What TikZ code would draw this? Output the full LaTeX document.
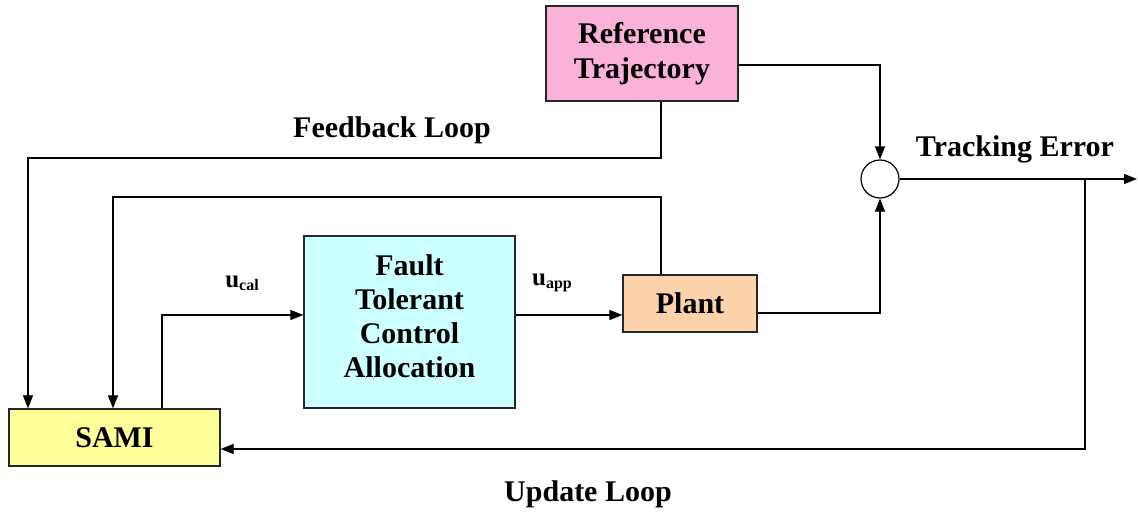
\documentclass[tikz,border=0pt]{standalone}
\usepackage{fontspec}
\setmainfont{Liberation Serif}
\usetikzlibrary{arrows.meta}
\definecolor{refpink}{RGB}{250,178,216}
\definecolor{plantor}{RGB}{252,210,170}
\definecolor{samiy}{RGB}{255,255,153}
\definecolor{ftcac}{RGB}{204,255,255}
\tikzset{
  x=1pt,y=-1pt,
  blk/.style={draw=black!85,line width=1.3pt,inner sep=0pt,font=\fontsize{30}{36}\selectfont\bfseries,align=center},
  lbl/.style={font=\fontsize{30}{36}\selectfont\bfseries,inner sep=0pt},
  arr/.style={line width=1.2pt,-{Triangle[length=13pt,width=10pt]}},
  ln/.style={line width=1.2pt},
}
\begin{document}
\begin{tikzpicture}
\useasboundingbox (0,0) rectangle (1138,514);
\node[blk,fill=refpink,minimum width=192pt,minimum height=95pt] (ref) at (642,53.5) {Reference\\[-1pt]Trajectory};
\node[blk,fill=samiy,minimum width=211pt,minimum height=57pt] (sami) at (114.5,437.5) {SAMI};
\node[blk,fill=ftcac,minimum width=211pt,minimum height=172pt] (ftca) at (409.5,322) {};
\node[lbl,align=center,font=\fontsize{30}{34}\selectfont\bfseries] (ftcatext) at (409.5,316) {Fault\\Tolerant\\Control\\Allocation};
\node[blk,fill=plantor,minimum width=134pt,minimum height=57pt] (plant) at (690,303.5) {Plant};
\node[draw,circle,line width=1.2pt,minimum size=38pt,inner sep=0pt] (sum) at (880,179) {};

\node[lbl] (fbl) at (392,130) {Feedback Loop};
\node[lbl] (tel) at (1015,149) {Tracking Error};
\node[lbl] (upl) at (588,494) {Update Loop};
\node[inner sep=0pt] (ucal) at (242,283) {\bfseries\fontsize{25}{25}\selectfont u\raisebox{-3pt}{\fontsize{16}{16}\selectfont cal}};
\node[inner sep=0pt] (uapp) at (552,283) {\bfseries\fontsize{25}{25}\selectfont u\raisebox{-3pt}{\fontsize{16}{16}\selectfont app}};

\coordinate (fbc) at (28,158);
\coordinate (plc) at (113,197);
\coordinate (out) at (1137,179);
\coordinate (br) at (1085,179);

\draw[arr] ([xshift=19pt]ref.south) |- (fbc) -- (fbc |- sami.north);
\draw[arr] ([xshift=-29pt]plant.north) |- (plc) -- (plc |- sami.north);
\draw[arr] ([xshift=47.5pt]sami.north) |- ([yshift=7pt]ftca.west);
\draw[arr] ([yshift=7pt]ftca.east) -- ([yshift=7pt]ftca.east -| plant.west);
\draw[arr] ([yshift=-9.5pt]plant.east) -| (sum.south);
\draw[arr] ([yshift=-11.5pt]ref.east) -| (sum.north);
\draw[arr] (sum.east) -- (out);
\draw[arr] (br) |- ([yshift=-11.5pt]sami.east);
\end{tikzpicture}
\end{document}
